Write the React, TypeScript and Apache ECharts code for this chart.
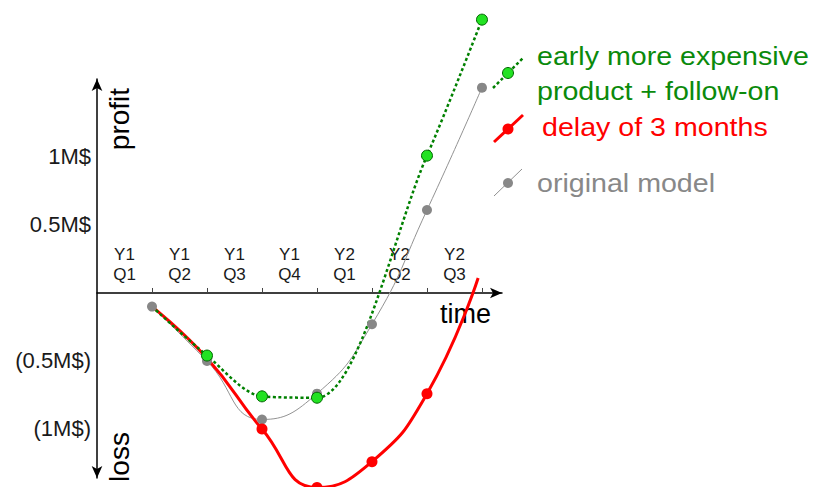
import React, { useEffect, useRef } from "react";
import * as echarts from "echarts";

// ---- data ----
const quarterLabels = ["Y1\nQ1", "Y1\nQ2", "Y1\nQ3", "Y1\nQ4", "Y2\nQ1", "Y2\nQ2", "Y2\nQ3"];
const quarterCenters = [0.5, 1.5, 2.5, 3.5, 4.5, 5.5, 6.5];
const quarterTicks = [1, 2, 3, 4, 5, 6, 7];
const yTickValues = [1, 0.5, -0.5, -1];
const yTickLabels = ["1M$", "0.5M$", "(0.5M$)", "(1M$)"];

const originalX = [1, 2, 3, 4, 5, 6, 7];
const originalY = [-0.1, -0.5, -0.93, -0.74, -0.23, 0.61, 1.51];
const originalMarked = [true, true, true, true, true, true, true];

const delayX = [1, 2, 3, 4, 5, 6, 6.93];
const delayY = [-0.1, -0.48, -1.0, -1.43, -1.24, -0.74, 0.11];
const delayMarked = [false, false, true, true, true, true, false];

const earlyX = [1, 2, 3, 4, 6, 7];
const earlyY = [-0.1, -0.46, -0.76, -0.77, 1.01, 2.01];
const earlyMarked = [false, true, true, true, true, true];

const seriesNames = ["original model", "delay of 3 months", "early more expensive\nproduct + follow-on"];

const FONT = "'Liberation Sans', Arial, sans-serif";

const Y_MIN = -1.3603;
const Y_MAX = 1.5735;
const GRID_TOP = 79;
const GRID_BOTTOM = 9;
const H = 487;

function pairs(xs: number[], ys: number[], marked: boolean[]) {
  return xs.map((x, i) =>
    marked[i] ? { value: [x, ys[i]] } : { value: [x, ys[i]], symbol: "none" }
  );
}

export default function App() {
  const ref = useRef<HTMLDivElement>(null);
  useEffect(() => {
    if (!ref.current) return;
    const chart = echarts.init(ref.current, null, { renderer: "svg" });

    // place the x axis (with its labels) on the zero line
    const gridH = H - GRID_TOP - GRID_BOTTOM;
    const zeroY = GRID_TOP + (Y_MAX / (Y_MAX - Y_MIN)) * gridH;
    const xAxisOffset = zeroY - (H - GRID_BOTTOM);

    const legendItems = [
      { name: seriesNames[2], color: "#008000", textColor: "#0b8a0b", lw: 2.5, dash: [3, 2.5], fill: "#22e222", stroke: "#006400", r: 5.5, x1: 493, y1: 88, x2: 523, y2: 58, cx: 508, cy: 73, tx: 537, ty: [56, 91] },
      { name: seriesNames[1], color: "#ff0000", textColor: "#ff0000", lw: 3, dash: null, fill: "#ff0000", stroke: "#ff0000", r: 5.5, x1: 494, y1: 142, x2: 523, y2: 115, cx: 508, cy: 129, tx: 542, ty: [127] },
      { name: seriesNames[0], color: "#909090", textColor: "#888888", lw: 1, dash: null, fill: "#888888", stroke: "#888888", r: 5, x1: 494, y1: 196, x2: 522, y2: 169, cx: 508, cy: 183, tx: 537, ty: [183] },
    ];

    const graphic: any[] = [];
    legendItems.forEach((it) => {
      graphic.push({
        type: "line",
        shape: { x1: it.x1, y1: it.y1, x2: it.x2, y2: it.y2 },
        style: { stroke: it.color, lineWidth: it.lw, lineDash: it.dash || undefined },
      });
      graphic.push({
        type: "circle",
        shape: { cx: it.cx, cy: it.cy, r: it.r },
        style: { fill: it.fill, stroke: it.stroke, lineWidth: it.stroke === it.fill ? 0 : 1 },
      });
      const lines = it.name.split("\n");
      lines.forEach((ln, i) => {
        graphic.push({
          type: "text",
          x: it.tx,
          y: it.ty[i],
          scaleX: 1.1,
          style: { text: ln, fill: it.textColor, fontSize: 26, fontFamily: FONT, align: "left", verticalAlign: "middle" },
        });
      });
    });
    graphic.push({
      type: "text", x: 440, y: 313.5,
      style: { text: "time", fill: "#000", fontSize: 27, fontFamily: FONT, align: "left", verticalAlign: "middle" },
    });
    graphic.push({
      type: "text", x: 119.5, y: 119, rotation: Math.PI / 2,
      style: { text: "profit", fill: "#000", fontSize: 28, fontFamily: FONT, align: "center", verticalAlign: "middle" },
    });
    graphic.push({
      type: "text", x: 119, y: 457, rotation: Math.PI / 2,
      style: { text: "loss", fill: "#000", fontSize: 28, fontFamily: FONT, align: "center", verticalAlign: "middle" },
    });

    chart.setOption({
      animation: false,
      grid: { left: 97, right: 311, top: GRID_TOP, bottom: GRID_BOTTOM, containLabel: false },
      xAxis: {
        type: "value",
        min: 0,
        max: 7.364,
        offset: xAxisOffset,
        splitLine: { show: false },
        axisLine: {
          onZero: false,
          symbol: ["none", "arrow"],
          symbolSize: [8, 12],
          lineStyle: { color: "#000", width: 1.5 },
        },
        axisTick: { show: true, inside: true, length: 5, customValues: quarterTicks, lineStyle: { color: "#444", width: 1 } },
        axisLabel: {
          inside: true,
          margin: 8,
          customValues: quarterCenters,
          formatter: (v: number) => {
            const i = quarterCenters.indexOf(v);
            return i >= 0 ? quarterLabels[i] : "";
          },
          fontSize: 17,
          lineHeight: 20,
          color: "#1a1a1a",
          fontFamily: FONT,
          align: "center",
        },
      },
      yAxis: {
        type: "value",
        min: Y_MIN,
        max: Y_MAX,
        splitLine: { show: false },
        axisLine: {
          onZero: true,
          symbol: ["arrow", "arrow"],
          symbolSize: [8, 12],
          lineStyle: { color: "#000", width: 1.5 },
        },
        axisTick: { show: false },
        axisLabel: {
          margin: 6,
          customValues: yTickValues,
          formatter: (v: number) => {
            const i = yTickValues.indexOf(v);
            return i >= 0 ? yTickLabels[i] : "";
          },
          fontSize: 22,
          color: "#1a1a1a",
          fontFamily: FONT,
        },
      },
      graphic,
      series: [
        {
          name: seriesNames[0],
          type: "line",
          smooth: 0.5,
          clip: false,
          data: pairs(originalX, originalY, originalMarked),
          symbol: "circle",
          symbolSize: 10,
          lineStyle: { color: "#939393", width: 1 },
          itemStyle: { color: "#878787" },
        },
        {
          name: seriesNames[1],
          type: "line",
          smooth: 0.5,
          clip: false,
          data: pairs(delayX, delayY, delayMarked),
          symbol: "circle",
          symbolSize: 11,
          lineStyle: { color: "#ff0000", width: 3 },
          itemStyle: { color: "#ff0000" },
        },
        {
          name: seriesNames[2],
          type: "line",
          smooth: 0.3,
          clip: false,
          data: pairs(earlyX, earlyY, earlyMarked),
          symbol: "circle",
          symbolSize: 11,
          lineStyle: { color: "#008000", width: 2.5, type: [3, 2.5] },
          itemStyle: { color: "#22e222", borderColor: "#006400", borderWidth: 1 },
        },
      ],
    });
    return () => chart.dispose();
  }, []);
  return (
    <div
      ref={ref}
      style={{ position: "absolute", left: 0, top: 0, width: 813, height: 487, background: "#fff" }}
    />
  );
}
